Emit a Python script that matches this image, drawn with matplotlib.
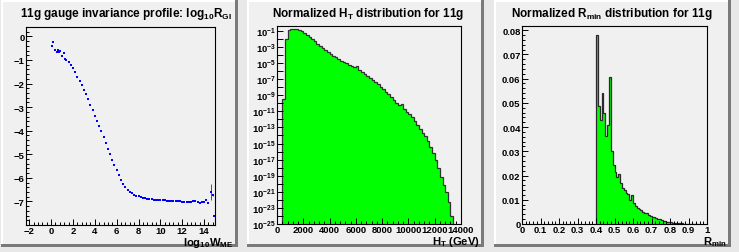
import numpy as np
import matplotlib
matplotlib.use('Agg')
import matplotlib.pyplot as plt
from matplotlib.patches import Rectangle
from matplotlib.ticker import MultipleLocator, FixedLocator, FixedFormatter

# ---- data ----
# pad 1: profile of log10(R_GI) vs log10(W_ME)
head_x = [0.05, 0.2, 0.35, 0.5, 0.6, 0.7, 0.85, 1.0, 1.15, 1.3]
head_y = [-0.40, -0.22, -0.57, -0.65, -0.58, -0.66, -0.62, -0.82, -0.72, -0.95]
body_x = np.round(np.arange(1.4, 14.5, 0.2), 1)
body_y = [-1.00, -1.10, -1.22, -1.36, -1.52, -1.71, -1.90, -2.08, -2.27, -2.46,
          -2.66, -2.89, -3.12, -3.36, -3.57, -3.78, -4.00, -4.25, -4.52, -4.77,
          -5.00, -5.24, -5.46, -5.67, -5.88, -6.07, -6.24, -6.40, -6.52, -6.60,
          -6.66, -6.71, -6.75, -6.79, -6.83, -6.85, -6.87, -6.89, -6.90, -6.91,
          -6.92, -6.93, -6.94, -6.95, -6.96, -6.96, -6.97, -6.97, -6.98, -6.98,
          -6.99, -6.99, -7.00, -7.01, -7.01, -7.01, -7.02, -7.01, -7.00, -6.98,
          -7.03, -7.05, -7.04, -7.01, -6.96, -7.08]
tail_x = [14.6, 14.8, 14.95]
tail_y = [-6.60, -6.73, -7.60]
tail_err = [0.33, 0.05, 0.0]

# pad 2: normalized H_T, log10 of bin content, 200 GeV bins from 400 GeV
ht_edges = np.arange(400, 13401, 200)
ht_log = [-9.5, -2.0, -0.85, -0.78, -0.78, -0.80, -0.88, -1.05, -1.30, -1.55,
          -1.80, -2.02, -2.30, -2.58, -2.88, -3.15, -3.42, -3.68, -3.90, -4.10,
          -4.30, -4.50, -4.70, -4.85, -5.02, -5.20, -5.38, -5.55, -5.35, -5.90,
          -6.08, -6.35, -6.62, -6.90, -7.12, -7.38, -7.64, -7.95, -8.25, -8.58,
          -8.90, -9.25, -9.60, -9.95, -10.25, -10.05, -10.75, -11.05, -11.35, -11.65,
          -12.15, -12.70, -13.25, -13.65, -14.10, -14.70, -15.45, -16.20, -17.10, -18.10,
          -19.20, -20.10, -21.00, -22.30, -24.00]

# pad 3: normalized R_min, 0.01 bins from 0.40
rmin_edges = np.round(np.arange(0.40, 0.9501, 0.01), 2)
rmin_vals = [0.0778, 0.0485, 0.0430, 0.0542, 0.0460, 0.0365, 0.0410, 0.0608, 0.0300, 0.0245,
             0.0215, 0.0195, 0.0208, 0.0170, 0.0150, 0.0140, 0.0128, 0.0125, 0.0100, 0.0118,
             0.0088, 0.0075, 0.0065, 0.0060, 0.0058, 0.0050, 0.0046, 0.0044, 0.0038, 0.0034,
             0.0030, 0.0027, 0.0024, 0.0021, 0.0019, 0.0016, 0.0014, 0.0012, 0.0010, 0.0009,
             0.0008, 0.0006, 0.0005, 0.0004, 0.0004, 0.0003, 0.0003, 0.0002, 0.0002, 0.0001,
             0.0001, 0.00008, 0.00005, 0.00004, 0.00002]

titles = ['11g gauge invariance profile: log$_{10}$R$_{GI}$',
          'Normalized H$_{T}$ distribution for 11g',
          'Normalized R$_{min}$ distribution for 11g']
xtitles = ['log$_{10}$W$_{ME}$', 'H$_{T}$ (GeV)', 'R$_{min}$']

# ---- style ----
plt.rcParams['font.family'] = ['Liberation Sans', 'DejaVu Sans']
plt.rcParams['font.weight'] = 'bold'
plt.rcParams['mathtext.fontset'] = 'custom'
plt.rcParams['mathtext.rm'] = 'Liberation Sans:bold'
plt.rcParams['mathtext.it'] = 'Liberation Sans:bold'
plt.rcParams['mathtext.bf'] = 'Liberation Sans:bold'
plt.rcParams['mathtext.default'] = 'regular'

W, H = 739, 253
PAD_BG = '#f0f0f0'
fig = plt.figure(figsize=(W / 100, H / 100), dpi=100)
fig.patch.set_facecolor('#e8e8e8')


def frect(x, y, w, h, color):
    fig.add_artist(Rectangle((x / W, 1 - (y + h) / H), w / W, h / H,
                             transform=fig.transFigure, facecolor=color,
                             lw=0, zorder=-5))


def add_ax(l, t, r, b):
    ax = fig.add_axes([l / W, 1 - b / H, (r - l) / W, (b - t) / H])
    ax.set_facecolor(PAD_BG)
    for s in ax.spines.values():
        s.set_linewidth(0.8)
    ax.tick_params(which='both', direction='in', top=False, right=False,
                   labelsize=6.8, pad=1.0, width=0.7)
    ax.tick_params(which='major', length=4)
    ax.tick_params(which='minor', length=2)
    return ax


# pads with ROOT-like bevel
for px in [1, 247, 494]:
    frect(px, 1, 237, 247, PAD_BG)
    frect(px, 1, 237, 2, 'white')
    frect(px, 1, 2, 247, 'white')
    frect(px + 234, 1, 3, 247, '#7a7a7a')
    frect(px, 245, 237, 3, '#7a7a7a')

# ---- pad 1 ----
ax1 = add_ax(26, 28, 215, 226)
ax1.plot(head_x, head_y, 's', color='#0000ff', ms=2.1, mew=0)
ax1.plot(body_x, body_y, 's', color='#0000ff', ms=2.1, mew=0)
ax1.errorbar(tail_x, tail_y, yerr=tail_err, fmt='s', color='#0000ff', ms=2.1,
             mew=0, ecolor='#505080', elinewidth=0.7)
ax1.set_xlim(-2.3, 15)
ax1.set_ylim(-8, 0.4)
ax1.xaxis.set_major_locator(FixedLocator(np.arange(-2, 15, 2)))
ax1.xaxis.set_minor_locator(MultipleLocator(0.4))
ax1.yaxis.set_major_locator(FixedLocator(np.arange(-7, 1, 1)))
ax1.yaxis.set_minor_locator(MultipleLocator(0.2))

# ---- pad 2 ----
ax2 = add_ax(277, 27, 461, 225)
ht_vals = 10.0 ** np.array(ht_log)
ax2.set_yscale('log')
ax2.stairs(ht_vals, ht_edges, fill=True, color='#00ff00', baseline=1e-30)
ax2.stairs(ht_vals, ht_edges, color='#333333', lw=0.9, baseline=1e-30)
ax2.set_xlim(0, 14000)
ax2.set_ylim(1e-25, 10 ** -0.4)
ax2.xaxis.set_major_locator(MultipleLocator(2000))
ax2.xaxis.set_minor_locator(MultipleLocator(400))
dec = list(range(-25, 0))
ax2.yaxis.set_major_locator(FixedLocator([10.0 ** d for d in dec]))
ax2.yaxis.set_major_formatter(FixedFormatter(
    ['10$^{%d}$' % d if d % 2 else '' for d in dec]))
ax2.yaxis.set_minor_locator(FixedLocator([]))

# ---- pad 3 ----
ax3 = add_ax(522, 27, 707, 225)
ax3.stairs(rmin_vals, rmin_edges, fill=True, color='#00ff00')
ax3.stairs(rmin_vals, rmin_edges, color='#2a2a2a', lw=0.9, baseline=0)
ax3.set_xlim(0, 1)
ax3.set_ylim(0, 0.0817)
ax3.xaxis.set_major_locator(FixedLocator(np.round(np.arange(0, 1.01, 0.1), 1)))
ax3.xaxis.set_major_formatter(FixedFormatter(
    ['0', '0.1', '0.2', '0.3', '0.4', '0.5', '0.6', '0.7', '0.8', '0.9', '1']))
ax3.xaxis.set_minor_locator(MultipleLocator(0.02))
ax3.yaxis.set_major_locator(FixedLocator(np.round(np.arange(0, 0.081, 0.01), 2)))
ax3.yaxis.set_major_formatter(FixedFormatter(
    ['0', '0.01', '0.02', '0.03', '0.04', '0.05', '0.06', '0.07', '0.08']))
ax3.yaxis.set_minor_locator(MultipleLocator(0.002))

# titles
for cx, t in zip([126, 368, 612], titles):
    fig.text(cx / W, 1 - 14 / H, t, ha='center', va='center', fontsize=8.5)
for rx, yc, t in zip([233, 480, 727], [243.5, 242.5, 242.5], xtitles):
    fig.text(rx / W, 1 - yc / H, t, ha='right', va='center', fontsize=8.1)

fig.savefig('out.png', dpi=100, facecolor=fig.get_facecolor())
